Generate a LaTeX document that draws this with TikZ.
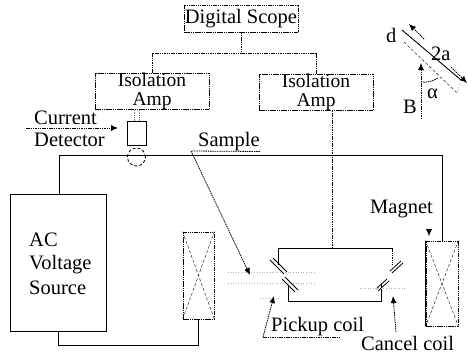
\documentclass[tikz,border=0pt]{standalone}
\usepackage{fontspec}
\setmainfont{Liberation Serif}
\usetikzlibrary{arrows.meta}
\tikzset{
  dotbox/.style={draw,line width=.9pt,dash pattern=on 1.5pt off .7pt,inner sep=0pt,align=center},
  wire/.style={line width=1pt},
  thinw/.style={line width=.8pt,dash pattern=on 1.5pt off .8pt},
  faint/.style={gray!60,dotted,line width=.6pt},
  lbl/.style={inner sep=0pt,align=left}
}
\begin{document}
\begin{tikzpicture}[x=1pt,y=-1pt,>={Latex[length=7pt,width=6pt]},font=\fontsize{20.5}{17}\selectfont]
\useasboundingbox (0,0) rectangle (468,354);
% readout
\node[dotbox,minimum width=114pt,minimum height=27pt] (scope) at (241,18.5) {Digital Scope};
\node[dotbox,font=\fontsize{19.5}{18.5}\selectfont,minimum width=114pt,minimum height=35pt] (ampL) at (152,91.5) {Isolation\\Amp};
\node[dotbox,font=\fontsize{19.5}{18.5}\selectfont,minimum width=114pt,minimum height=35pt] (ampR) at (316,92.5) {Isolation\\Amp};
\coordinate (tee) at (241,53);
\draw[thinw] (scope.south) -- (tee);
\draw[thinw] (ampL.north) |- (tee);
\draw[thinw] (ampR.north) |- (tee);
% detector
\node[draw,line width=.8pt,minimum width=19pt,minimum height=24pt,inner sep=0pt] (det) at (136.5,133) {};
\node[draw,line width=.8pt,densely dashed,circle,minimum size=18pt,inner sep=0pt] (ring) at (136.5,157) {};
\draw[thinw,gray] ([xshift=-2.5pt]det.north) -- ([xshift=-2.5pt]det.north |- ampL.south);
\draw[thinw,gray] ([xshift=2.5pt]det.north) -- ([xshift=2.5pt]det.north |- ampL.south);
\node[lbl,anchor=west] (cur) at (34,118) {Current};
\node[lbl,anchor=west] (dtr) at (34,140) {Detector};
\coordinate (curs) at (26,128);
\coordinate (curt) at (118,128);
\draw[->,thinw] (curs) -- (curt);
% main circuit
\node[draw,line width=.9pt,minimum width=96pt,minimum height=137pt,inner sep=0pt] (src) at (58,262.5) {};
\node[lbl,anchor=west] (srct) at (29,264) {AC\\[6pt]Voltage\\[6pt]Source};
\node[dotbox,minimum width=31pt,minimum height=87pt] (coilL) at (198.5,275.5) {};
\draw[densely dashed] (coilL.north west) -- (coilL.south east);
\draw[densely dashed] (coilL.north east) -- (coilL.south west);
\node[dotbox,minimum width=32pt,minimum height=85pt] (coilR) at (442,283.5) {};
\draw[densely dashed] (coilR.north west) -- (coilR.south east);
\draw[densely dashed] (coilR.north east) -- (coilR.south west);
\draw[line width=1.2pt] (coilR.north west) -- (coilR.south west);
\coordinate (tl) at (59,155);
\coordinate (tr) at (442,155);
\coordinate (bl) at (58,345);
\coordinate (br) at (198.5,345);
\draw[wire] (src.north -| tl) -- (tl) -- (tr) -- (coilR.north);
\draw[wire] (src.south) -- (bl) -- (br) -- (coilL.south);
% sample and pickup frame
\coordinate (f1) at (278,265);
\coordinate (f2) at (278,248);
\coordinate (f3) at (392,248);
\coordinate (f4) at (392,265);
\coordinate (g1) at (288,285);
\coordinate (g2) at (288,301);
\coordinate (g3) at (381,301);
\coordinate (g4) at (381,284);
\coordinate (fm) at (332,248);
\draw[line width=.9pt] (f1) -- (f2) -- (f3);
\draw[thinw] (f3) -- (f4);
\draw[line width=.9pt] (g1) -- (g2) -- (g3) -- (g4);
\draw[thinw] (fm) -- (fm |- ampR.south);
% coils
\draw[line width=.8pt] (270,260) -- (284,274) (273,258) -- (287,272);
\draw[line width=.8pt] (282,279) -- (295,292) (285,277) -- (298,290);
\draw[line width=.8pt] (390,271) -- (401,261) (392,273) -- (403,263);
\draw[line width=.8pt] (376,289) -- (387,279) (378,291) -- (389,281);
\draw[faint] (228,272) -- (315,272);
\draw[faint] (228,283) -- (315,283);
\draw[faint] (360,288) -- (405,288);
\draw[faint] (260,298) -- (280,298);
% labels with pointers
\node[lbl,anchor=west] (sam) at (198,142) {Sample};
\coordinate (sams) at (191,151);
\coordinate (samt) at (250,275);
\draw[thinw] (sam.south east) -- (sams);
\draw[->,thinw] (sams) -- (samt);
\node[lbl,anchor=west] (pick) at (271,327) {Pickup coil};
\coordinate (pks) at (263,337);
\coordinate (pkt) at (274,296);
\draw[thinw] (pks) -- (340,337);
\draw[->,thinw] (pks) -- (pkt);
\node[lbl,anchor=west] (canc) at (361,343) {Cancel coil};
\coordinate (cns) at (396,332);
\coordinate (cnt) at (393,296);
\draw[->,thinw] (cns) -- (cnt);
\node[lbl,anchor=west] (mag) at (370,209) {Magnet};
\coordinate (mgs) at (429,229);
\coordinate (mgt) at (429,236);
\draw[->,thin] (mgs) -- (mgt);
% inset
\coordinate (a1) at (402,30);
\coordinate (a2) at (461,80);
\coordinate (d1) at (404,42);
\coordinate (d2) at (457,93);
\draw[line width=.9pt] (a1) -- (a2);
\draw[densely dashed] (d1) -- (d2);
\draw[dotted] (a2) -- (d2);
\coordinate (w1) at (424,39);
\coordinate (w2) at (409,24);
\coordinate (w3) at (451,67);
\coordinate (w4) at (467,83);
\draw[->,thinw] (w1) -- (w2);
\draw[->,thinw] (w3) -- (w4);
\node[lbl,anchor=west] (twoa) at (431,54) {2a};
\node[lbl,anchor=west] (dee) at (386,35) {d};
\coordinate (b1) at (421,119);
\coordinate (b2) at (421,63);
\draw[->,thinw] (b1) -- (b2);
\coordinate (al1) at (421,82);
\coordinate (al2) at (438,78);
\draw[thinw] (al1) .. controls (427,83) and (433,81) .. (al2);
\node[lbl,anchor=west] (alf) at (427,94) {α};
\node[lbl,anchor=west] (bee) at (403,107) {B};
\end{tikzpicture}
\end{document}
